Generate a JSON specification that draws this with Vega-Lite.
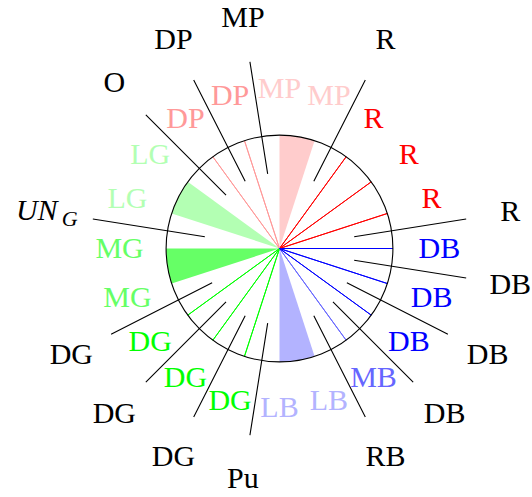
{
  "$schema": "https://vega.github.io/schema/vega-lite/v6.json",
  "width": 505,
  "height": 495,
  "autosize": {"type": "none"},
  "padding": {"left": 27, "top": 1, "right": 0, "bottom": 1},
  "background": "white",
  "config": {"view": {"stroke": null}},
  "datasets": {
    "labels": [
      {"angle": 0, "cat": "DB"}, {"angle": 18, "cat": "R"}, {"angle": 36, "cat": "R"}, {"angle": 54, "cat": "R"},
      {"angle": 72, "cat": "MP"}, {"angle": 90, "cat": "MP"}, {"angle": 108, "cat": "DP"}, {"angle": 126, "cat": "DP"},
      {"angle": 144, "cat": "LG"}, {"angle": 162, "cat": "LG"}, {"angle": 180, "cat": "MG"}, {"angle": 198, "cat": "MG"},
      {"angle": 216, "cat": "DG"}, {"angle": 234, "cat": "DG"}, {"angle": 252, "cat": "DG"}, {"angle": 270, "cat": "LB"},
      {"angle": 288, "cat": "LB"}, {"angle": 306, "cat": "MB"}, {"angle": 324, "cat": "DB"}, {"angle": 342, "cat": "DB"}
    ],
    "rays": [
      {"angle": 0, "cat": "DB"}, {"angle": 18, "cat": "R"}, {"angle": 36, "cat": "R"}, {"angle": 54, "cat": "R"},
      {"angle": 108, "cat": "DP"}, {"angle": 126, "cat": "DP"}, {"angle": 216, "cat": "DG"}, {"angle": 234, "cat": "DG"},
      {"angle": 252, "cat": "DG"}, {"angle": 306, "cat": "MB"}, {"angle": 324, "cat": "DB"}, {"angle": 342, "cat": "DB"}
    ],
    "wedges": [
      {"start": 72, "end": 90, "cat": "MP"}, {"start": 144, "end": 162, "cat": "LG"},
      {"start": 180, "end": 198, "cat": "MG"}, {"start": 270, "end": 288, "cat": "LB"}
    ],
    "ticks": [
      {"angle": 9, "label": "R"}, {"angle": 63, "label": "R"}, {"angle": 99, "label": "MP"}, {"angle": 117, "label": "DP"},
      {"angle": 135, "label": "O"}, {"angle": 171, "label": "UN_G"}, {"angle": 207, "label": "DG"}, {"angle": 225, "label": "DG"},
      {"angle": 243, "label": "DG"}, {"angle": 261, "label": "Pu"}, {"angle": 297, "label": "RB"}, {"angle": 315, "label": "DB"},
      {"angle": 333, "label": "DB"}, {"angle": 351, "label": "DB"}
    ]
  },
  "layer": [
    {
      "data": {"name": "wedges"},
      "mark": {"type": "arc", "strokeWidth": 0},
      "encoding": {
        "theta": {"field": "start", "type": "quantitative", "stack": false, "scale": {"type": "linear", "domain": [0, 360], "range": [1.5707963267948966, -4.71238898038469]}},
        "theta2": {"field": "end"},
        "radius": {"datum": 3, "type": "quantitative", "scale": {"type": "linear", "domain": [0, 7], "range": [0, 264.6], "zero": true}},
        "radius2": {"datum": 0},
        "color": {"field": "cat", "type": "nominal", "legend": null, "scale": {"domain": ["R", "MP", "DP", "LG", "MG", "DG", "LB", "MB", "DB"], "range": ["#ff0000", "#ffcccc", "#ff9999", "#b3ffb3", "#66ff66", "#00ff00", "#b3b3ff", "#6666ff", "#0000ff"]}}
      }
    },
    {
      "data": {"name": "rays"},
      "mark": {"type": "arc", "filled": false, "strokeWidth": 1},
      "encoding": {
        "theta": {"field": "angle", "type": "quantitative", "stack": false, "scale": {"type": "linear", "domain": [0, 360], "range": [1.5707963267948966, -4.71238898038469]}},
        "theta2": {"field": "angle"},
        "radius": {"datum": 3, "type": "quantitative", "scale": {"type": "linear", "domain": [0, 7], "range": [0, 264.6], "zero": true}},
        "radius2": {"datum": 0},
        "color": {"field": "cat", "type": "nominal", "legend": null, "scale": {"domain": ["R", "MP", "DP", "LG", "MG", "DG", "LB", "MB", "DB"], "range": ["#ff0000", "#ffcccc", "#ff9999", "#b3ffb3", "#66ff66", "#00ff00", "#b3b3ff", "#6666ff", "#0000ff"]}}
      }
    },
    {
      "data": {"values": [{"from": 0, "to": 360}]},
      "mark": {"type": "arc", "filled": false, "stroke": "black", "strokeWidth": 1.1},
      "encoding": {
        "theta": {"field": "from", "type": "quantitative", "stack": false, "scale": {"type": "linear", "domain": [0, 360], "range": [1.5707963267948966, -4.71238898038469]}},
        "theta2": {"field": "to"},
        "radius": {"datum": 3, "type": "quantitative", "scale": {"type": "linear", "domain": [0, 7], "range": [0, 264.6], "zero": true}},
        "radius2": {"datum": 0}
      }
    },
    {
      "data": {"name": "ticks"},
      "mark": {"type": "arc", "filled": false, "stroke": "black", "strokeWidth": 1.1},
      "encoding": {
        "theta": {"field": "angle", "type": "quantitative", "stack": false, "scale": {"type": "linear", "domain": [0, 360], "range": [1.5707963267948966, -4.71238898038469]}},
        "theta2": {"field": "angle"},
        "radius": {"datum": 5, "type": "quantitative", "scale": {"type": "linear", "domain": [0, 7], "range": [0, 264.6], "zero": true}},
        "radius2": {"datum": 2}
      }
    },
    {
      "data": {"name": "labels"},
      "mark": {"type": "text", "font": "Liberation Serif", "fontSize": 30, "align": "center", "baseline": "middle"},
      "encoding": {
        "theta": {"field": "angle", "type": "quantitative", "stack": false, "scale": {"type": "linear", "domain": [0, 360], "range": [1.5707963267948966, -4.71238898038469]}},
        "radius": {"datum": 4.23, "type": "quantitative", "scale": {"type": "linear", "domain": [0, 7], "range": [0, 264.6], "zero": true}},
        "text": {"field": "cat"},
        "color": {"field": "cat", "type": "nominal", "legend": null, "scale": {"domain": ["R", "MP", "DP", "LG", "MG", "DG", "LB", "MB", "DB"], "range": ["#ff0000", "#ffcccc", "#ff9999", "#b3ffb3", "#66ff66", "#00ff00", "#b3b3ff", "#6666ff", "#0000ff"]}}
      }
    },
    {
      "data": {"name": "ticks"},
      "transform": [{"filter": "datum.label != 'UN_G'"}],
      "mark": {"type": "text", "font": "Liberation Serif", "fontSize": 30, "align": "center", "baseline": "middle", "color": "black"},
      "encoding": {
        "theta": {"field": "angle", "type": "quantitative", "stack": false, "scale": {"type": "linear", "domain": [0, 360], "range": [1.5707963267948966, -4.71238898038469]}},
        "radius": {"datum": 6.18, "type": "quantitative", "scale": {"type": "linear", "domain": [0, 7], "range": [0, 264.6], "zero": true}},
        "text": {"field": "label"}
      }
    },
    {
      "data": {"name": "ticks"},
      "transform": [{"filter": "datum.label == 'UN_G'"}],
      "mark": {"type": "text", "font": "Liberation Serif", "fontStyle": "italic", "fontSize": 30, "align": "center", "baseline": "middle", "color": "black", "dx": -12, "dy": -1},
      "encoding": {
        "theta": {"field": "angle", "type": "quantitative", "stack": false, "scale": {"type": "linear", "domain": [0, 360], "range": [1.5707963267948966, -4.71238898038469]}},
        "radius": {"datum": 6.18, "type": "quantitative", "scale": {"type": "linear", "domain": [0, 7], "range": [0, 264.6], "zero": true}},
        "text": {"value": "UN"}
      }
    },
    {
      "data": {"name": "ticks"},
      "transform": [{"filter": "datum.label == 'UN_G'"}],
      "mark": {"type": "text", "font": "Liberation Serif", "fontStyle": "italic", "fontSize": 22, "align": "center", "baseline": "middle", "color": "black", "dx": 21, "dy": 7},
      "encoding": {
        "theta": {"field": "angle", "type": "quantitative", "stack": false, "scale": {"type": "linear", "domain": [0, 360], "range": [1.5707963267948966, -4.71238898038469]}},
        "radius": {"datum": 6.18, "type": "quantitative", "scale": {"type": "linear", "domain": [0, 7], "range": [0, 264.6], "zero": true}},
        "text": {"value": "G"}
      }
    }
  ]
}
